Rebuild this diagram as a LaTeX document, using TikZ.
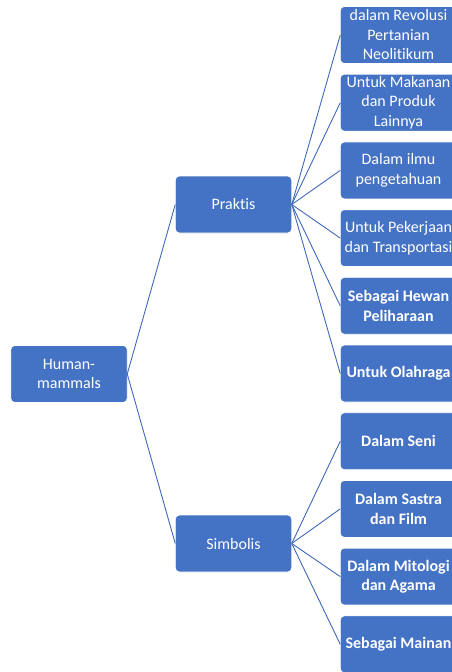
\documentclass[tikz,border=0pt]{standalone}
\usepackage{fontspec}
\setmainfont{Carlito}[Ligatures=NoCommon]
\definecolor{boxblue}{HTML}{4472C4}
\definecolor{lineblue}{HTML}{4068B8}
\begin{document}
\begin{tikzpicture}[x=1pt,y=-1pt,
  box/.style={draw=white,line width=0.8pt,fill=boxblue,rounded corners=4pt,
    minimum width=116.5pt,minimum height=57pt,inner sep=1pt,outer sep=0pt,
    text=white,align=center,font=\fontsize{16}{19.5}\selectfont},
  bbox/.style={box,font=\fontsize{16}{19.5}\selectfont\bfseries},
  conn/.style={draw=lineblue,line width=0.9pt}]
\useasboundingbox (0,0) rectangle (452,672);
\clip (0,0) rectangle (452,672);
\node[box] (hm) at (69,374) {Human-\\mammals};
\node[box] (pr) at (233.5,204.5) {Praktis};
\node[box] (si) at (233.5,543.5) {Simbolis};
\node[box] (r1) at (398.5,35) {dalam Revolusi\\Pertanian\\Neolitikum};
\node[box] (r2) at (398.5,102.7) {Untuk Makanan\\dan Produk\\Lainnya};
\node[box] (r3) at (398.5,170.4) {Dalam ilmu\\pengetahuan};
\node[box] (r4) at (398.5,238.1) {Untuk Pekerjaan\\dan Transportasi};
\node[bbox] (r5) at (398.5,305.8) {Sebagai Hewan\\Peliharaan};
\node[bbox] (r6) at (398.5,373.5) {Untuk Olahraga};
\node[bbox] (r7) at (398.5,441.2) {Dalam Seni};
\node[bbox] (r8) at (398.5,508.9) {Dalam Sastra\\dan Film};
\node[bbox] (r9) at (398.5,576.6) {Dalam Mitologi\\dan Agama};
\node[bbox] (r10) at (398.5,644.3) {Sebagai Mainan};
\draw[conn] (hm.east) -- (pr.west);
\draw[conn] (hm.east) -- (si.west);
\foreach \r in {r1,r2,r3,r4,r5,r6} \draw[conn] (pr.east) -- (\r.west);
\foreach \r in {r7,r8,r9,r10} \draw[conn] (si.east) -- (\r.west);
\end{tikzpicture}
\end{document}
